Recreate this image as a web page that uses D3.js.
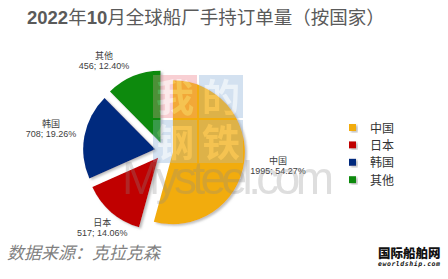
<!DOCTYPE html>
<html>
<head>
<meta charset="utf-8">
<script src="https://cdn.jsdelivr.net/npm/d3@7"></script>
<style>
  body { margin: 0; background: #fff; }
  svg { display: block; }
</style>
</head>
<body>
<script>
// chart data
var categories = ["中国", "日本", "韩国", "其他"];
var values = [1995, 517, 708, 456];
var colors = ["#F2AC0C", "#C00000", "#002A7E", "#078A0A"];
var titleParts = [["2022", true], ["年", false], ["10", true], ["月全球船厂手持订单量（按国家）", false]];
var sourceText = "数据来源：克拉克森";

var width = 448, height = 279;
var cx = 164, cy = 151, radius = 72, explode = 9;
var cjk = "'Liberation Sans', 'Noto Sans CJK SC', sans-serif";

var svg = d3.select("body").append("svg")
    .attr("width", width)
    .attr("height", height);

var defs = svg.append("defs");
var shadow = defs.append("filter").attr("id", "shadow")
    .attr("x", "-20%").attr("y", "-20%").attr("width", "140%").attr("height", "140%");
shadow.append("feDropShadow")
    .attr("dx", 2).attr("dy", 1.5).attr("stdDeviation", 0.8)
    .attr("flood-color", "#888").attr("flood-opacity", 0.55);

// title
var title = svg.append("text")
    .attr("x", 27)
    .attr("y", 24)
    .style("font-family", cjk)
    .style("font-size", "18.5px")
    .attr("fill", "#5a5a5a");
title.selectAll("tspan")
    .data(titleParts)
  .enter().append("tspan")
    .style("font-weight", function(d) { return d[1] ? "bold" : "normal"; })
    .text(function(d) { return d[0]; });

var total = d3.sum(values);
var fmtPct = d3.format(".2%");

var pie = d3.pie().sort(null).value(function(d) { return d; });
var arcs = pie(values);
var arc = d3.arc().innerRadius(0).outerRadius(radius);

function mid(d) { return (d.startAngle + d.endAngle) / 2; }

// watermark (sits behind the slices a little, drawn faint)
var wm = svg.append("g").attr("opacity", 0.3);
var boxes = [["我", 153, 75, "#f2a0a8"], ["的", 199, 75, "#a8c4e4"], ["钢", 153, 120, "#a8c4e4"], ["铁", 199, 120, "#a8c4e4"]];
wm.selectAll("rect")
    .data(boxes)
  .enter().append("rect")
    .attr("x", function(d) { return d[1]; })
    .attr("y", function(d) { return d[2]; })
    .attr("width", 44)
    .attr("height", 43)
    .attr("fill", function(d) { return d[3]; });

var g = svg.append("g")
    .attr("transform", "translate(" + cx + "," + cy + ")");

g.selectAll("path.slice")
    .data(arcs)
  .enter().append("path")
    .attr("class", "slice")
    .attr("d", arc)
    .attr("fill", function(d, i) { return colors[i]; })
    .attr("filter", "url(#shadow)")
    .attr("transform", function(d) {
        var a = mid(d);
        return "translate(" + (explode * Math.sin(a)) + "," + (-explode * Math.cos(a)) + ")";
    });

// watermark overlay
var wm2 = svg.append("g").attr("opacity", 0.28);
wm2.selectAll("rect")
    .data(boxes)
  .enter().append("rect")
    .attr("x", function(d) { return d[1]; })
    .attr("y", function(d) { return d[2]; })
    .attr("width", 44)
    .attr("height", 43)
    .attr("fill", function(d) { return d[3]; });
wm2.selectAll("text.wmc")
    .data(boxes)
  .enter().append("text")
    .attr("class", "wmc")
    .attr("x", function(d) { return d[1] + 22; })
    .attr("y", function(d) { return d[2] + 36; })
    .attr("text-anchor", "middle")
    .style("font-family", "'Noto Sans CJK SC', sans-serif")
    .style("font-size", "38px")
    .style("font-weight", "bold")
    .attr("fill", "#ffffff")
    .text(function(d) { return d[0]; });
wm2.append("text")
    .attr("x", 122)
    .attr("y", 194)
    .style("font-family", "'Liberation Sans', sans-serif")
    .style("font-size", "46px")
    .attr("textLength", 212)
    .attr("fill", "#8a8a8a")
    .text("Mysteel.com");

// data labels (Excel style, outside the slices)
var labelR = 113;
var labelNudge = [[2, 0], [12, -9], [-2, -1], [-17, 15]];
var labels = g.selectAll("g.label")
    .data(arcs)
  .enter().append("g")
    .attr("class", "label")
    .attr("transform", function(d, i) {
        var a = mid(d);
        return "translate(" + (labelR * Math.sin(a) + labelNudge[i][0]) + "," + (-labelR * Math.cos(a) + labelNudge[i][1]) + ")";
    })
    .style("font-family", cjk)
    .style("font-size", "9px")
    .attr("fill", "#404040")
    .attr("text-anchor", "middle");
labels.append("text")
    .attr("y", -2)
    .text(function(d, i) { return categories[i]; });
labels.append("text")
    .attr("y", 8)
    .text(function(d, i) { return values[i] + "; " + fmtPct(values[i] / total); });

// legend
var legend = svg.selectAll("g.legend")
    .data(categories)
  .enter().append("g")
    .attr("class", "legend")
    .attr("transform", function(d, i) { return "translate(349," + (128 + i * 17.4) + ")"; });
legend.append("rect")
    .attr("x", 0)
    .attr("y", -4)
    .attr("width", 7)
    .attr("height", 7)
    .attr("fill", function(d, i) { return colors[i]; })
    .attr("filter", "url(#shadow)");
legend.append("text")
    .attr("x", 21)
    .attr("y", 4.5)
    .style("font-family", "'Noto Sans CJK SC', sans-serif")
    .style("font-size", "12px")
    .attr("fill", "#333")
    .text(function(d) { return d; });

// source
svg.append("text")
    .attr("x", 7)
    .attr("y", 259)
    .style("font-family", "'Noto Sans CJK SC', sans-serif")
    .style("font-size", "17px")
    .style("font-style", "italic")
    .attr("fill", "#808080")
    .text(sourceText);

// site logo
svg.append("text")
    .attr("x", 378)
    .attr("y", 258)
    .style("font-family", "'Noto Sans CJK SC', sans-serif")
    .style("font-size", "12.5px")
    .style("font-weight", "900")
    .attr("fill", "#111")
    .text("国际船舶网");
svg.append("text")
    .attr("x", 378)
    .attr("y", 266)
    .style("font-family", "'DejaVu Sans Mono', monospace")
    .style("font-size", "6.5px")
    .style("font-weight", "bold")
    .style("font-style", "italic")
    .attr("textLength", 62)
    .attr("fill", "#111")
    .text("eworldship.com");
</script>
</body>
</html>
